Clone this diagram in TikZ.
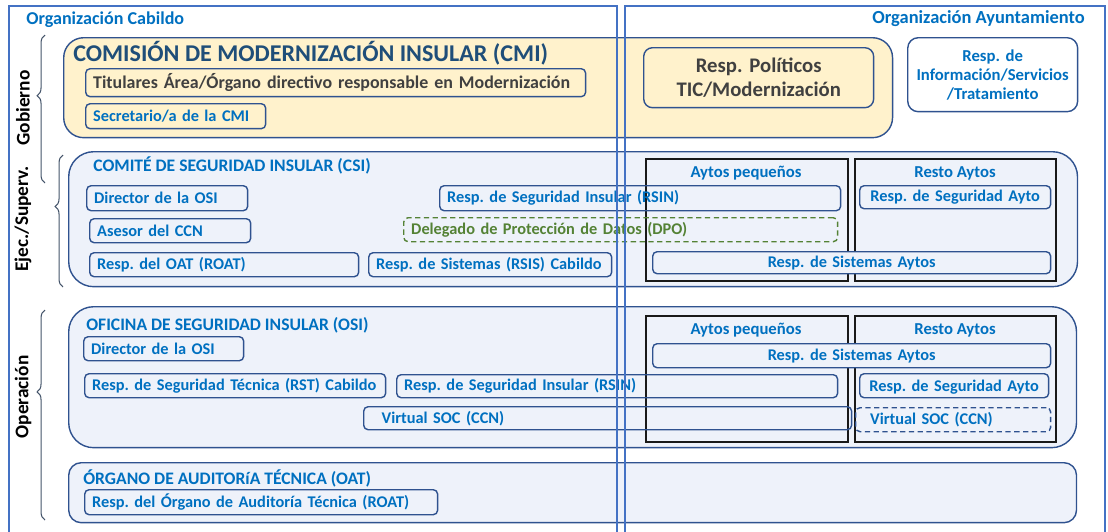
\documentclass[tikz,border=0pt]{standalone}
\usepackage{fontspec}
\setmainfont{Carlito}
\usetikzlibrary{positioning}
\usetikzlibrary{decorations.pathreplacing}
\definecolor{frmblue}{HTML}{4472C4}
\definecolor{txtblue}{HTML}{0070C0}
\definecolor{bdr}{HTML}{2F528F}
\definecolor{cmifill}{HTML}{FFF2CC}
\definecolor{grpfill}{HTML}{EEF2FA}
\definecolor{dpogreen}{HTML}{548235}
\definecolor{txtgray}{HTML}{404040}
\definecolor{titblue}{HTML}{1F4E79}
\definecolor{brcgray}{HTML}{44546A}
\tikzset{
	grp/.style={draw=bdr,fill=grpfill,line width=0.8pt,rounded corners=0.5cm,anchor=north west,inner sep=0pt},
	ayt/.style={draw=black!90,line width=1.1pt,anchor=north west,inner sep=0pt},
	role/.style={draw=bdr,line width=0.8pt,rounded corners=2.5pt,text=txtblue,font=\fontsize{9.3}{11}\selectfont\bfseries,inner xsep=0.15cm,inner ysep=0pt,align=left,anchor=north west},
	ttl/.style={text=txtblue,font=\fontsize{10}{12}\selectfont\bfseries,inner sep=0pt},
	side/.style={font=\fontsize{11}{13}\selectfont\bfseries,rotate=90,inner sep=0pt},
	brc/.style={draw=brcgray,line width=0.6pt,decorate},
	frm/.style={draw=frmblue,line width=1.6pt}
}
\begin{document}
\frenchspacing
\begin{tikzpicture}[x=0.02cm,y=-0.02cm]
		\useasboundingbox (0,0) rectangle (1108,531);
		% grupos
		\node (cmi)[grp,fill=cmifill,rounded corners=0.4cm,minimum width=16.58cm,minimum height=2cm] at (63,37) {};
		\node (csi)[grp,minimum width=20.18cm,minimum height=2.7cm] at (68,151) {};
		\node (osi)[grp,minimum width=20.16cm,minimum height=2.82cm] at (68,306) {};
		\node (oat)[grp,rounded corners=0.25cm,minimum width=20.16cm,minimum height=1.2cm] at (68,462) {};
		\node (aypeqa)[ayt,minimum width=4.04cm,minimum height=2.44cm] at (645,158) {};
		\node (restoa)[ayt,minimum width=4.02cm,minimum height=2.44cm] at (854,158) {};
		\node (aypeqb)[ayt,minimum width=4.04cm,minimum height=2.52cm] at (645,315) {};
		\node (restob)[ayt,minimum width=4.02cm,minimum height=2.52cm] at (854,315) {};
		% titulos
		\node (cab)[ttl,font=\fontsize{10.3}{12}\selectfont\bfseries,anchor=west] at (26,20) {Organización Cabildo};
		\node (ayu)[ttl,font=\fontsize{10.5}{12}\selectfont\bfseries,anchor=east] at (1085,19) {Organización Ayuntamiento};
		\node (cmit)[anchor=west,inner sep=0pt,text=titblue,font=\fontsize{13.7}{16}\selectfont\bfseries] at (73,53) {COMISIÓN DE MODERNIZACIÓN INSULAR (CMI)};
		\node (csit)[ttl,anchor=west] at (93,165) {COMITÉ DE SEGURIDAD INSULAR (CSI)};
		\node (osit)[ttl,anchor=west] at (86,325) {OFICINA DE SEGURIDAD INSULAR (OSI)};
		\node (oatt)[ttl,anchor=west] at (83,478) {ÓRGANO DE AUDITORíA TÉCNICA (OAT)};
		\node (aypeqat)[ttl,font=\fontsize{9.5}{11}\selectfont\bfseries] at (746,173) {Aytos pequeños};
		\node (restoat)[ttl,font=\fontsize{9.5}{11}\selectfont\bfseries] at (955,173) {Resto Aytos};
		\node (aypeqbt)[ttl,font=\fontsize{9.5}{11}\selectfont\bfseries] at (746,330) {Aytos pequeños};
		\node (restobt)[ttl,font=\fontsize{9.5}{11}\selectfont\bfseries] at (955,330) {Resto Aytos};
		% Gobierno
		\node (tit)[role,text=txtgray,font=\fontsize{10.2}{12}\selectfont\bfseries,text width=9.7cm,minimum height=0.56cm] at (85,68) {Titulares Área/Órgano directivo responsable en Modernización};
		\node (sec)[role,text width=3.3cm,minimum height=0.5cm] at (85,103) {Secretario/a de la CMI};
		\node (pol)[role,rounded corners=5pt,text=txtgray,font=\fontsize{11.8}{13.6}\selectfont\bfseries,align=center,text width=4.3cm,minimum height=1.2cm] at (643,47) {Resp. Políticos\\TIC/Modernización};
		\node (inf)[role,rounded corners=6pt,fill=white,font=\fontsize{9.5}{10.8}\selectfont\bfseries,align=center,text width=3.1cm,minimum height=1.48cm] at (907,37) {Resp. de\\Información/Servicios\\/Tratamiento};
		% CSI
		\node (csidir)[role,text width=2.92cm,minimum height=0.5cm] at (86,185) {Director de la OSI};
		\node (csiccn)[role,text width=2.92cm,minimum height=0.48cm] at (89,218) {Asesor del CCN};
		\node (csiroat)[role,text width=5.08cm,minimum height=0.48cm] at (89,252) {Resp. del OAT (ROAT)};
		\node (csirsis)[role,text width=4.56cm,minimum height=0.48cm] at (368,252) {Resp. de Sistemas (RSIS) Cabildo};
		\node (csirsin)[role,text width=7.72cm,minimum height=0.5cm] at (439,185) {Resp. de Seguridad Insular (RSIN)};
		\node (dpo)[role,draw=dpogreen,dash pattern=on 3pt off 2pt,text=dpogreen,text width=8.38cm,minimum height=0.48cm] at (403,217) {Delegado de Protección de Datos (DPO)};
		\node (csisegay)[role,align=center,text width=3.52cm,minimum height=0.46cm] at (859,185) {Resp. de Seguridad Ayto};
		\node (csisisay)[role,fill=grpfill,align=center,text width=7.66cm,minimum height=0.44cm] at (652,251) {Resp. de Sistemas Aytos};
		% OSI
		\node (osidir)[role,text width=2.9cm,minimum height=0.48cm] at (83,336) {Director de la OSI};
		\node (osirst)[role,text width=5.72cm,minimum height=0.48cm] at (84,373) {Resp. de Seguridad Técnica (RST) Cabildo};
		\node (osirsin)[role,text width=8.52cm,minimum height=0.46cm] at (396,374) {Resp. de Seguridad Insular (RSIN)};
		\node (osisoc)[role,text width=9.46cm,minimum height=0.46cm] at (363,406) {\hspace*{6pt}Virtual SOC (CCN)};
		\node (osisisay)[role,fill=grpfill,align=center,text width=7.66cm,minimum height=0.48cm] at (652,343) {Resp. de Sistemas Aytos};
		\node (osisegay)[role,align=center,text width=3.48cm,minimum height=0.48cm,text depth=-1pt] at (859,373) {Resp. de Seguridad Ayto};
		\node (socay)[role,dash pattern=on 3pt off 2pt,text width=3.6cm,minimum height=0.48cm] at (855,407) {\hspace*{4pt}Virtual SOC (CCN)};
		% OAT
		\node (oatroat)[role,text width=6.76cm,minimum height=0.5cm] at (84,489) {Resp. del Órgano de Auditoría Técnica (ROAT)};
		% llaves
		\draw [brc,decoration={brace,amplitude=4.5pt,aspect=0.59}] (45,183) -- (45,35);
		\draw [brc,decoration={brace,amplitude=4.5pt,aspect=0.61}] (63,287) -- (63,155);
		\draw [brc,decoration={brace,amplitude=4.5pt,aspect=0.61}] (45,520) -- (45,310);
		\node (gob)[side] at (23,108) {Gobierno};
		\node (eje)[side] at (23,219) {Ejec./Superv.};
		\node (ope)[side] at (23,397) {Operación};
		% marcos
		\draw [frm] (9,6) rectangle (617,545);
		\draw [frm] (625,6) rectangle (1105,545);
	\end{tikzpicture}
\end{document}
